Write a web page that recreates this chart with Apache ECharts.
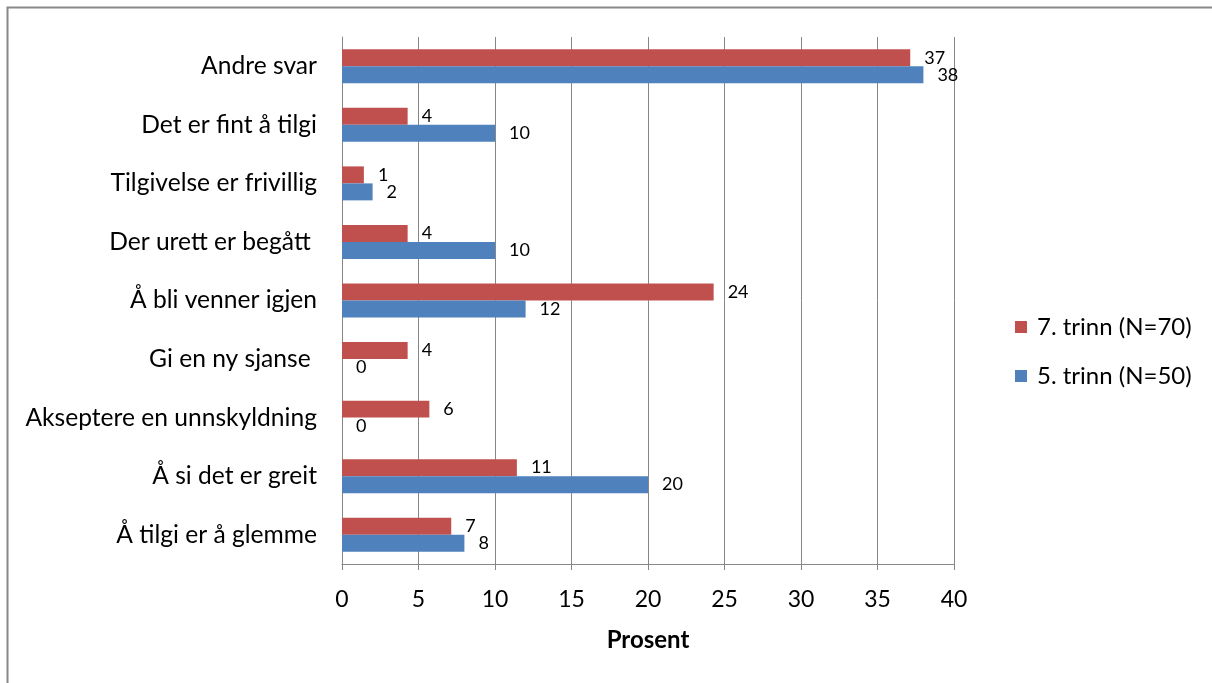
<!DOCTYPE html>
<html>
<head>
<meta charset="utf-8">
<script src="https://cdn.jsdelivr.net/npm/echarts@6/dist/echarts.min.js"></script>
<style>
html,body{margin:0;padding:0;background:#fff;}
#c{width:1212px;height:683px;}
</style>
</head>
<body>
<div id="c"></div>
<script>
const categories = ["Å tilgi er å glemme","Å si det er greit","Akseptere en unnskyldning","Gi en ny sjanse ","Å bli venner igjen","Der urett er begått ","Tilgivelse er frivillig","Det er fint å tilgi","Andre svar"];
const seriesNames = ["7. trinn (N=70)","5. trinn (N=50)"];
const trinn7 = [7.14, 11.43, 5.71, 4.29, 24.29, 4.29, 1.43, 4.29, 37.14];
const trinn5 = [8, 20, 0, 0, 12, 10, 2, 10, 38];
const xTicks = [0,5,10,15,20,25,30,35,40];
const xTitle = "Prosent";

const FONT = "Lato, 'Open Sans', sans-serif";
const chart = echarts.init(document.getElementById('c'), null, {renderer:'canvas'});
const lbl = {
  show:true, position:'right', distance:14, color:'#000', fontSize:18, fontFamily:FONT,
  formatter: p => Math.round(p.value)
};
chart.setOption({
  animation:false,
  backgroundColor:'#fff',
  textStyle:{fontFamily:FONT},
  graphic:[{type:'rect', shape:{x:7.5,y:7.5,width:1400,height:900}, style:{fill:null, stroke:'#888888', lineWidth:2}, silent:true}],
  grid:{left:342, right:258, top:37, bottom:119, containLabel:false},
  legend:{
    orient:'vertical', left:1010, top:310, itemGap:25,
    itemWidth:12, itemHeight:12, icon:'rect',
    data:seriesNames,
    textStyle:{fontSize:24, color:'#000', fontFamily:FONT, padding:[0,0,0,5]}
  },
  xAxis:{
    type:'value', min:xTicks[0], max:xTicks[xTicks.length-1], interval:5,
    name:xTitle, nameLocation:'middle', nameGap:64,
    nameTextStyle:{fontSize:24, fontWeight:'bold', color:'#000', fontFamily:FONT},
    axisLine:{show:true, lineStyle:{color:'#868686', width:1}},
    axisTick:{show:true, length:6, lineStyle:{color:'#868686'}},
    axisLabel:{fontSize:23, color:'#000', margin:24, fontFamily:FONT},
    splitLine:{show:true, lineStyle:{color:'#868686', width:1}}
  },
  yAxis:{
    type:'category', data:categories,
    axisLine:{show:true, lineStyle:{color:'#868686', width:1}},
    axisTick:{show:false},
    axisLabel:{fontSize:24.6, color:'#000', margin:25, fontFamily:FONT}
  },
  series:[
    {name:seriesNames[0], type:'bar', data:trinn7, itemStyle:{color:'#C0504D'}, barGap:'0%', barCategoryGap:'42%', label:lbl},
    {name:seriesNames[1], type:'bar', data:trinn5, itemStyle:{color:'#4F81BD'}, barGap:'0%', barCategoryGap:'42%', label:lbl}
  ]
});
</script>
</body>
</html>
